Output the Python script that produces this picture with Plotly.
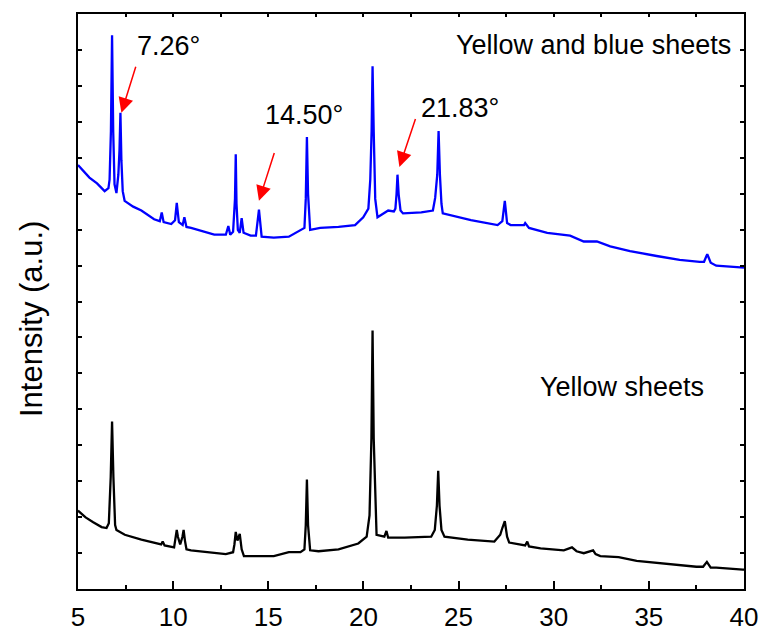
import plotly.graph_objects as go

# 2-theta (degrees) and intensity (a.u.)
blue_x = [5.0, 5.3, 5.6, 6.0, 6.4, 6.6, 6.66, 6.73, 6.79, 6.85, 6.92, 7.02, 7.12, 7.18, 7.23, 7.28,
          7.35, 7.45, 7.9, 8.33, 9.0, 9.3, 9.4, 9.5, 9.9, 10.1, 10.19, 10.3, 10.5, 10.59, 10.7,
          10.94, 11.5, 12.16, 12.77, 12.9, 13.0, 13.15, 13.25, 13.29, 13.33, 13.4, 13.5, 13.6,
          13.7, 14.07, 14.35, 14.51, 14.65, 15.29, 16.08, 16.9, 16.97, 17.03, 17.09, 17.2, 17.73,
          18.69, 19.56, 19.99, 20.26, 20.36, 20.43, 20.48, 20.54, 20.62, 20.74, 21.3, 21.6, 21.68,
          21.74, 21.79, 21.85, 21.95, 22.08, 23.04, 23.65, 23.77, 23.88, 23.95, 24.02, 24.1,
          24.17, 25.65, 27.05, 27.3, 27.43, 27.55, 27.74, 28.44, 28.5, 28.7, 29.66, 30.86, 31.58,
          32.27, 32.97, 34.01, 35.41, 36.62, 37.67, 37.9, 38.07, 38.25, 38.54, 39.94, 40.0]
blue_y = [435, 428, 422, 416, 408, 411, 420, 470, 569, 470, 415, 406, 425, 450, 489, 440,
          408, 398, 392, 388, 379, 377, 386, 376, 374, 378, 396, 376, 373, 381, 371,
          370, 367, 363, 363, 372, 363, 366, 400, 446, 395, 368, 365, 380,
          365, 362, 362, 389, 361, 360, 361, 370, 400, 464, 405, 368, 370,
          371, 373, 381, 390, 420, 470, 537, 470, 400, 381, 388, 387, 390,
          405, 425, 405, 388, 385, 386, 388, 401, 425, 470, 425, 395,
          385, 378, 373, 377, 398, 375, 373, 373, 375, 370, 365, 362, 356,
          356, 351, 346, 341, 337, 335, 335, 343, 334, 331, 329, 329]

black_x = [5.0, 5.4, 5.8, 6.24, 6.5, 6.62, 6.72, 6.79, 6.86, 6.95, 7.02, 7.46, 8.33, 9.37, 9.45,
           9.55, 10.05, 10.13, 10.19, 10.25, 10.37, 10.49, 10.55, 10.62, 10.7, 10.94, 11.81,
           12.77, 13.15, 13.22, 13.29, 13.38, 13.5, 13.6, 13.72, 15.29, 16.08, 16.69, 16.9,
           16.97, 17.03, 17.09, 17.2, 17.64, 18.69, 19.73, 20.17, 20.32, 20.42, 20.48, 20.54,
           20.64, 20.69, 21.1, 21.21, 21.3, 22.17, 23.56, 23.75, 23.86, 23.93, 24.0, 24.1,
           24.26, 25.48, 26.88, 27.19, 27.3, 27.43, 27.55, 27.66, 28.5, 28.61, 28.7, 29.31,
           30.53, 30.96, 31.2, 31.58, 32.07, 32.2, 32.45, 33.41, 34.36, 35.76, 37.5, 37.85,
           38.05, 38.25, 38.54, 39.94, 40.0]
black_y = [78, 71, 66, 61, 60, 65, 113, 170, 113, 63, 58, 53, 48, 43, 46,
           42, 40, 51, 58, 51, 43, 51, 58, 47, 38, 37, 35,
           33, 35, 43, 56, 47, 54, 38, 31, 31, 35, 35, 38,
           63, 110, 63, 37, 36, 38, 44, 51, 73, 153, 264, 153,
           68, 53, 51, 57, 50, 50, 51, 58, 83, 119, 83, 58,
           51, 48, 46, 53, 60, 67, 51, 45, 42, 46, 41, 39,
           37, 40, 36, 34, 37, 33, 31, 30, 26, 23, 20, 20,
           25, 19, 19, 17, 17]

# peak labels: text, x, y
label_text = ["7.26°", "14.50°", "21.83°"]
label_x = [9.73, 16.86, 25.09]
label_y = [558, 487, 494]
# arrows: tip (x, y) and tail (x, y)
arrow_tip_x = [7.28, 14.51, 21.89]
arrow_tip_y = [489, 398, 433]
arrow_tail_x = [8.06, 15.34, 22.76]
arrow_tail_y = [538, 449, 484]

sample_names = ["Yellow and blue sheets", "Yellow sheets"]
sample_x = [32.07, 33.6]
sample_y = [559, 206]

x_ticks = [5, 10, 15, 20, 25, 30, 35, 40]

FONT = "Liberation Sans, Arial, sans-serif"

fig = go.Figure()
fig.add_trace(go.Scatter(x=black_x, y=black_y, mode="lines",
                         line=dict(color="#000000", width=2.3), showlegend=False))
fig.add_trace(go.Scatter(x=blue_x, y=blue_y, mode="lines",
                         line=dict(color="#0000FF", width=2.3), showlegend=False))
# dummy trace so the top axis is drawn
fig.add_trace(go.Scatter(x=[None], y=[None], xaxis="x2", showlegend=False))

annotations = []
for t, x, y in zip(label_text, label_x, label_y):
    annotations.append(dict(text=t, x=x, y=y, xref="x", yref="y", showarrow=False,
                            xanchor="center", yanchor="middle",
                            font=dict(family=FONT, size=27, color="black")))
for tx, ty, ax, ay in zip(arrow_tip_x, arrow_tip_y, arrow_tail_x, arrow_tail_y):
    annotations.append(dict(text="", x=tx, y=ty, ax=ax, ay=ay, xref="x", yref="y",
                            axref="x", ayref="y", showarrow=True, arrowhead=2,
                            arrowsize=2, arrowwidth=1.5, arrowcolor="#FF0000"))
for t, x, y in zip(sample_names, sample_x, sample_y):
    annotations.append(dict(text=t, x=x, y=y, xref="x", yref="y", showarrow=False,
                            xanchor="center", yanchor="middle",
                            font=dict(family=FONT, size=27, color="black")))
annotations.append(dict(text="Intensity (a.u.)", x=-0.0701, y=0.47, xref="paper",
                        yref="paper", showarrow=False, textangle=-90,
                        xanchor="center", yanchor="middle",
                        font=dict(family=FONT, size=31, color="black")))

fig.update_layout(
    width=770, height=644,
    margin=dict(l=78, r=22, t=12, b=38),
    paper_bgcolor="white", plot_bgcolor="white",
    showlegend=False,
    annotations=annotations,
    xaxis=dict(range=[5, 40], tickvals=x_ticks, ticks="inside", ticklen=8, tickwidth=1.5,
               tickcolor="black", showline=True, linecolor="black", linewidth=1.5,
               mirror=True, showgrid=False, zeroline=False, ticklabelstandoff=4,
               tickfont=dict(family=FONT, size=26, color="black"),
               minor=dict(ticks="inside", ticklen=4, tickwidth=1.5, tickcolor="black",
                          tick0=5, dtick=2.5, showgrid=False)),
    xaxis2=dict(range=[5, 40], overlaying="x", side="top", anchor="y", ticks="inside",
                ticklen=3, tickwidth=1.5, tickcolor="black", tick0=5, dtick=2.5,
                showticklabels=False, showgrid=False, zeroline=False, showline=False),
    yaxis=dict(range=[-3, 591], tick0=-3, dtick=37.125, ticks="inside", ticklen=4,
               tickwidth=1.5, tickcolor="black", showticklabels=False, showline=True,
               linecolor="black", linewidth=1.5, mirror="ticks", showgrid=False,
               zeroline=False),
)

fig.write_html("out.html")
